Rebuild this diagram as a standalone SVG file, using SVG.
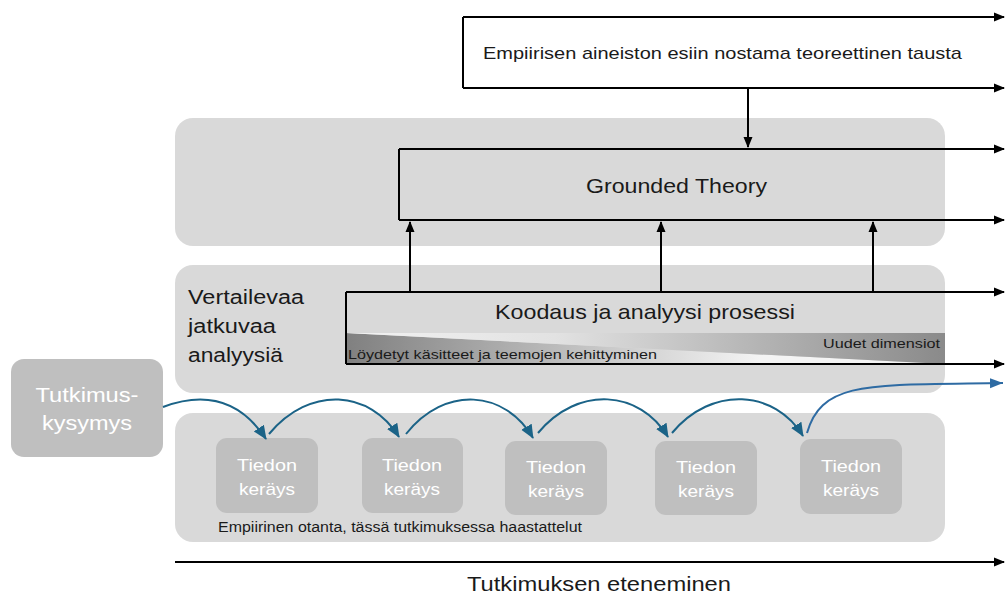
<svg xmlns="http://www.w3.org/2000/svg" width="1005" height="597" viewBox="0 0 1005 597">
  <defs>
    <style>
      text { font-family: "Liberation Sans", Arial, sans-serif; }
      .panel { fill: #d9d9d9; }
      .step { fill: #bfbfbf; }
      .line { stroke: #000; stroke-width: 2; fill: none; }
      .arrow { stroke: #000; stroke-width: 2; fill: none; marker-end: url(#blackHead); }
      .flow { stroke: #1b6387; stroke-width: 2; fill: none; marker-end: url(#blueHead); }
      .dark { fill: #1a1a1a; }
      .white { fill: #ffffff; text-anchor: middle; }
    </style>
    <marker id="blackHead" markerUnits="userSpaceOnUse" markerWidth="12" markerHeight="12" viewBox="0 0 12 12" refX="10" refY="6" orient="auto">
      <path d="M0,1.5 L11,6 L0,10.5 Z" fill="#000"/>
    </marker>
    <marker id="blueHead" markerUnits="userSpaceOnUse" markerWidth="16" markerHeight="16" viewBox="0 0 16 16" refX="13" refY="8" orient="auto">
      <path d="M0,2 L14,8 L0,14 Z" fill="#1b6387"/>
    </marker>
    <marker id="blueHead2" markerUnits="userSpaceOnUse" markerWidth="16" markerHeight="16" viewBox="0 0 16 16" refX="13" refY="8" orient="auto">
      <path d="M0,3 L13,8 L0,13 Z" fill="#2e6ba3"/>
    </marker>
    <linearGradient id="fadeLeft" x1="346" y1="0" x2="760" y2="0" gradientUnits="userSpaceOnUse">
      <stop offset="0" stop-color="#808080"/>
      <stop offset="1" stop-color="#f4f4f4"/>
    </linearGradient>
    <linearGradient id="fadeRight" x1="346" y1="0" x2="945" y2="0" gradientUnits="userSpaceOnUse">
      <stop offset="0" stop-color="#f2f2f2"/>
      <stop offset="0.35" stop-color="#e2e2e2"/>
      <stop offset="1" stop-color="#8a8a8a"/>
    </linearGradient>
  </defs>

  <rect width="1005" height="597" fill="#ffffff"/>

  <!-- background bands -->
  <g id="band-theory"><rect class="panel" x="175" y="118" width="770" height="128" rx="18"/></g>
  <g id="band-analysis">
    <rect class="panel" x="175" y="265" width="770" height="128" rx="18"/>
    <text class="dark" x="188" y="304" font-size="20" textLength="116" lengthAdjust="spacingAndGlyphs">Vertailevaa</text>
    <text class="dark" x="188" y="333" font-size="20" textLength="88" lengthAdjust="spacingAndGlyphs">jatkuvaa</text>
    <text class="dark" x="188" y="362" font-size="20" textLength="95" lengthAdjust="spacingAndGlyphs">analyysiä</text>
  </g>
  <g id="band-data">
    <rect class="panel" x="175" y="413" width="770" height="129" rx="18"/>
    <text class="dark" x="218" y="532" font-size="14" textLength="364" lengthAdjust="spacingAndGlyphs">Empiirinen otanta, tässä tutkimuksessa haastattelut</text>
  </g>

  <!-- theoretical background -->
  <g id="background-theory">
    <path class="line" d="M463,17 V88"/>
    <path class="arrow" d="M463,17 H1004"/>
    <path class="arrow" d="M463,88 H1004"/>
    <text class="dark" x="483" y="59" font-size="17" textLength="479" lengthAdjust="spacingAndGlyphs">Empiirisen aineiston esiin nostama teoreettinen tausta</text>
  </g>

  <!-- grounded theory -->
  <g id="grounded-theory">
    <path class="line" d="M399,149 V220"/>
    <path class="arrow" d="M399,149 H1004"/>
    <path class="arrow" d="M399,220 H1004"/>
    <text class="dark" x="586" y="193" font-size="21" textLength="181" lengthAdjust="spacingAndGlyphs">Grounded Theory</text>
  </g>

  <!-- coding and analysis -->
  <g id="coding-process">
    <polygon points="346,333 346,364 945,364" fill="url(#fadeLeft)"/>
    <polygon points="346,333 945,333 945,364" fill="url(#fadeRight)"/>
    <path class="line" d="M346,292 V364"/>
    <path class="arrow" d="M346,292 H1004"/>
    <path class="arrow" d="M346,364 H1004"/>
    <text class="dark" x="495" y="319" font-size="21" textLength="300" lengthAdjust="spacingAndGlyphs">Koodaus ja analyysi prosessi</text>
    <text class="dark" x="348" y="359" font-size="13.5" textLength="309" lengthAdjust="spacingAndGlyphs">Löydetyt käsitteet ja  teemojen kehittyminen</text>
    <text class="dark" x="823" y="348" font-size="13.5" textLength="117" lengthAdjust="spacingAndGlyphs">Uudet dimensiot</text>
  </g>

  <!-- research question -->
  <g id="research-question">
    <rect class="step" x="11" y="359" width="152" height="98" rx="13"/>
    <text class="white" x="87" y="402" font-size="21" textLength="103" lengthAdjust="spacingAndGlyphs">Tutkimus-</text>
    <text class="white" x="87" y="430" font-size="21" textLength="90" lengthAdjust="spacingAndGlyphs">kysymys</text>
  </g>

  <!-- data collection steps -->
  <g id="collect-1">
    <rect class="step" x="216" y="438" width="102" height="75" rx="11"/>
    <text class="white" x="267" y="471" font-size="17" textLength="60" lengthAdjust="spacingAndGlyphs">Tiedon</text>
    <text class="white" x="267" y="495" font-size="17" textLength="56" lengthAdjust="spacingAndGlyphs">keräys</text>
  </g>
  <g id="collect-2">
    <rect class="step" x="362" y="438" width="101" height="75" rx="11"/>
    <text class="white" x="412" y="471" font-size="17" textLength="60" lengthAdjust="spacingAndGlyphs">Tiedon</text>
    <text class="white" x="412" y="495" font-size="17" textLength="56" lengthAdjust="spacingAndGlyphs">keräys</text>
  </g>
  <g id="collect-3">
    <rect class="step" x="505" y="441" width="102" height="74" rx="11"/>
    <text class="white" x="556" y="473" font-size="17" textLength="60" lengthAdjust="spacingAndGlyphs">Tiedon</text>
    <text class="white" x="556" y="497" font-size="17" textLength="56" lengthAdjust="spacingAndGlyphs">keräys</text>
  </g>
  <g id="collect-4">
    <rect class="step" x="655" y="441" width="102" height="74" rx="11"/>
    <text class="white" x="706" y="473" font-size="17" textLength="60" lengthAdjust="spacingAndGlyphs">Tiedon</text>
    <text class="white" x="706" y="497" font-size="17" textLength="56" lengthAdjust="spacingAndGlyphs">keräys</text>
  </g>
  <g id="collect-5">
    <rect class="step" x="800" y="439" width="102" height="75" rx="11"/>
    <text class="white" x="851" y="472" font-size="17" textLength="60" lengthAdjust="spacingAndGlyphs">Tiedon</text>
    <text class="white" x="851" y="496" font-size="17" textLength="56" lengthAdjust="spacingAndGlyphs">keräys</text>
  </g>

  <!-- axis -->
  <g id="timeline">
    <path class="arrow" d="M175,562 H1004"/>
    <text class="dark" x="467" y="591" font-size="20" textLength="264" lengthAdjust="spacingAndGlyphs">Tutkimuksen eteneminen</text>
  </g>

  <!-- connectors -->
  <g id="connectors">
    <path class="arrow" d="M748,88 V147"/>
    <path class="arrow" d="M410,292 V222"/>
    <path class="arrow" d="M661,292 V222"/>
    <path class="arrow" d="M873,292 V222"/>
    <path class="flow" d="M163,407 C195,395 235,392 266,439"/>
    <path class="flow" d="M269,434 C310,385 370,390 399,437"/>
    <path class="flow" d="M406,434 C445,385 505,390 533,438"/>
    <path class="flow" d="M538,433 C578,385 640,390 668,437"/>
    <path class="flow" d="M672,433 C712,385 775,390 803,436"/>
    <path d="M807,433 C822,380 870,385 1003,383" stroke="#2e6ba3" stroke-width="2" fill="none" marker-end="url(#blueHead2)"/>
  </g>
</svg>
